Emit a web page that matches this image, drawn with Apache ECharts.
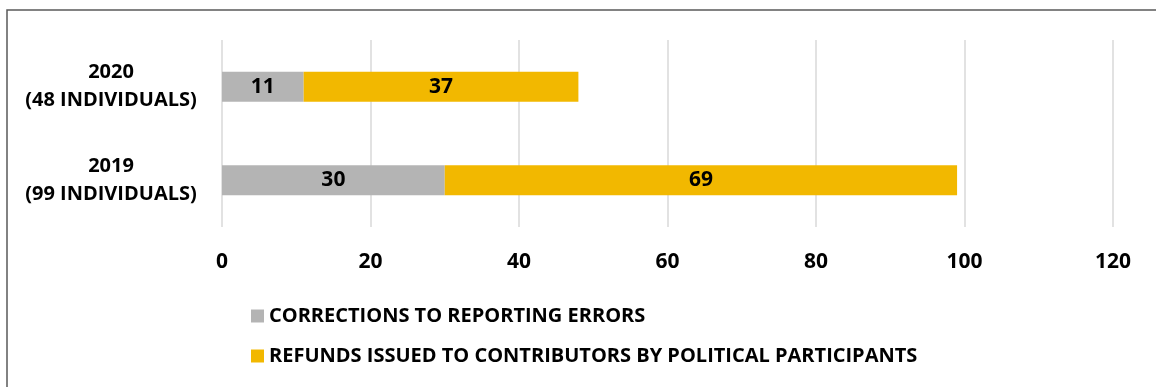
<!DOCTYPE html>
<html>
<head>
<meta charset="utf-8">
<script src="https://cdn.jsdelivr.net/npm/echarts@6/dist/echarts.min.js"></script>
<style>
  html, body { margin: 0; padding: 0; background: #fff; }
  #chart { width: 1156px; height: 387px; }
</style>
</head>
<body>
<div id="chart"></div>
<script>
// Categories, bottom to top on the y axis
const years = ['2019\n(99 INDIVIDUALS)', '2020\n(48 INDIVIDUALS)'];
const corrections = [30, 11];
const refunds = [69, 37];
const seriesNames = ['CORRECTIONS TO REPORTING ERRORS', 'REFUNDS ISSUED TO CONTRIBUTORS BY POLITICAL PARTICIPANTS'];
const xTicks = { min: 0, max: 120, interval: 20 };

const FONT = '"Open Sans", "Noto Sans", sans-serif';

const chart = echarts.init(document.getElementById('chart'), null, { renderer: 'canvas' });

const barLabel = {
  show: true,
  position: 'inside',
  color: '#000',
  fontFamily: FONT,
  fontWeight: 'bold',
  fontSize: 21
};

chart.setOption({
  animation: false,
  backgroundColor: '#fff',
  graphic: [{
    type: 'rect',
    shape: { x: 7, y: 10, width: 1200, height: 420 },
    style: { fill: 'none', stroke: '#595959', lineWidth: 1.5 },
    silent: true
  }],
  grid: { left: 222, right: 43, top: 40, height: 187 },
  legend: {
    orient: 'vertical',
    left: 251,
    top: 306,
    padding: 0,
    itemWidth: 13,
    itemHeight: 13,
    itemGap: 20,
    icon: 'rect',
    textStyle: { fontFamily: FONT, fontWeight: 'bold', fontSize: 20, color: '#000' },
    data: seriesNames
  },
  xAxis: {
    type: 'value',
    min: xTicks.min,
    max: xTicks.max,
    interval: xTicks.interval,
    axisLine: { show: false },
    axisTick: { show: false },
    splitLine: { lineStyle: { color: '#d9d9d9', width: 1.5 } },
    axisLabel: { color: '#000', fontFamily: FONT, fontWeight: 'bold', fontSize: 21, margin: 25 }
  },
  yAxis: {
    type: 'category',
    data: years,
    axisLine: { show: false },
    axisTick: { show: false },
    axisLabel: {
      color: '#000', fontFamily: FONT, fontWeight: 'bold', fontSize: 20,
      align: 'center', margin: 111, lineHeight: 28
    }
  },
  series: [
    {
      name: seriesNames[0],
      type: 'bar',
      stack: 'total',
      data: corrections,
      barWidth: 30,
      itemStyle: { color: '#b4b4b4' },
      label: barLabel
    },
    {
      name: seriesNames[1],
      type: 'bar',
      stack: 'total',
      data: refunds,
      barWidth: 30,
      itemStyle: { color: '#f2b800' },
      label: barLabel
    }
  ]
});
</script>
</body>
</html>
